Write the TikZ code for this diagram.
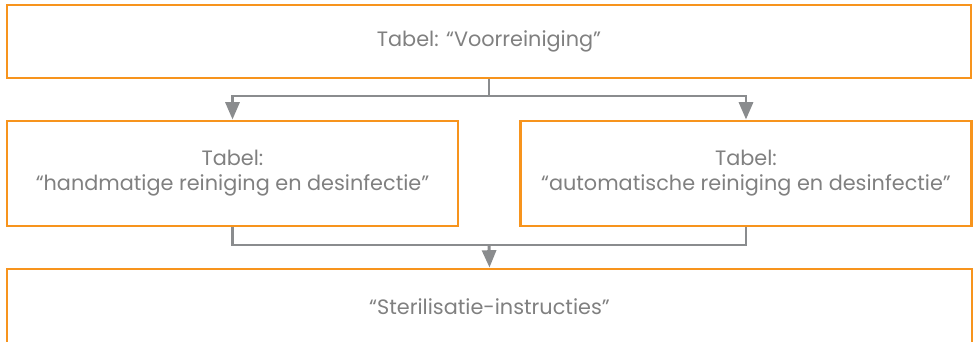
\documentclass[tikz,border=0pt]{standalone}
\usepackage{fontspec}
\setmainfont{Poppins}
\usetikzlibrary{arrows.meta}
\definecolor{boxorange}{HTML}{F7941D}
\definecolor{linegray}{HTML}{8A8C8E}
\definecolor{textgray}{HTML}{808080}
\begin{document}
\begin{tikzpicture}[x=0.75pt,y=-0.75pt,
  box/.style={draw=boxorange,line width=2.2pt,rectangle,inner sep=0pt,
    text=textgray,font=\fontsize{15.6}{18.8}\selectfont,align=center},
  conn/.style={draw=linegray,line width=2.2pt},
  arr/.style={conn,-{Triangle[width=10.5pt,length=13pt]}}]
\useasboundingbox (0,0) rectangle (978,342);
\clip (0,0) rectangle (978,342);
\node[box,minimum width=964*0.75pt,minimum height=73*0.75pt] (top) at (489,41.5) {Tabel: “Voorreiniging”};
\node[box,minimum width=451*0.75pt,minimum height=105*0.75pt] (left) at (232.5,173.5) {Tabel:\\“handmatige reiniging en desinfectie”};
\node[box,minimum width=451*0.75pt,minimum height=105*0.75pt] (right) at (746,173.5) {Tabel:\\“automatische reiniging en desinfectie”};
\node[box,minimum width=965*0.75pt,minimum height=75*0.75pt] (bot) at (489.5,306.5) {“Sterilisatie-instructies”};
\coordinate (s) at (489,96);
\coordinate (j) at (489,245);
\draw[conn] (top.south) -- (s);
\draw[arr] (s) -| (left.north);
\draw[arr] (s) -| (right.north);
\draw[conn] (left.south) |- (j);
\draw[conn] (right.south) |- (j);
\draw[arr] (j) -- (bot.north);
\end{tikzpicture}
\end{document}
